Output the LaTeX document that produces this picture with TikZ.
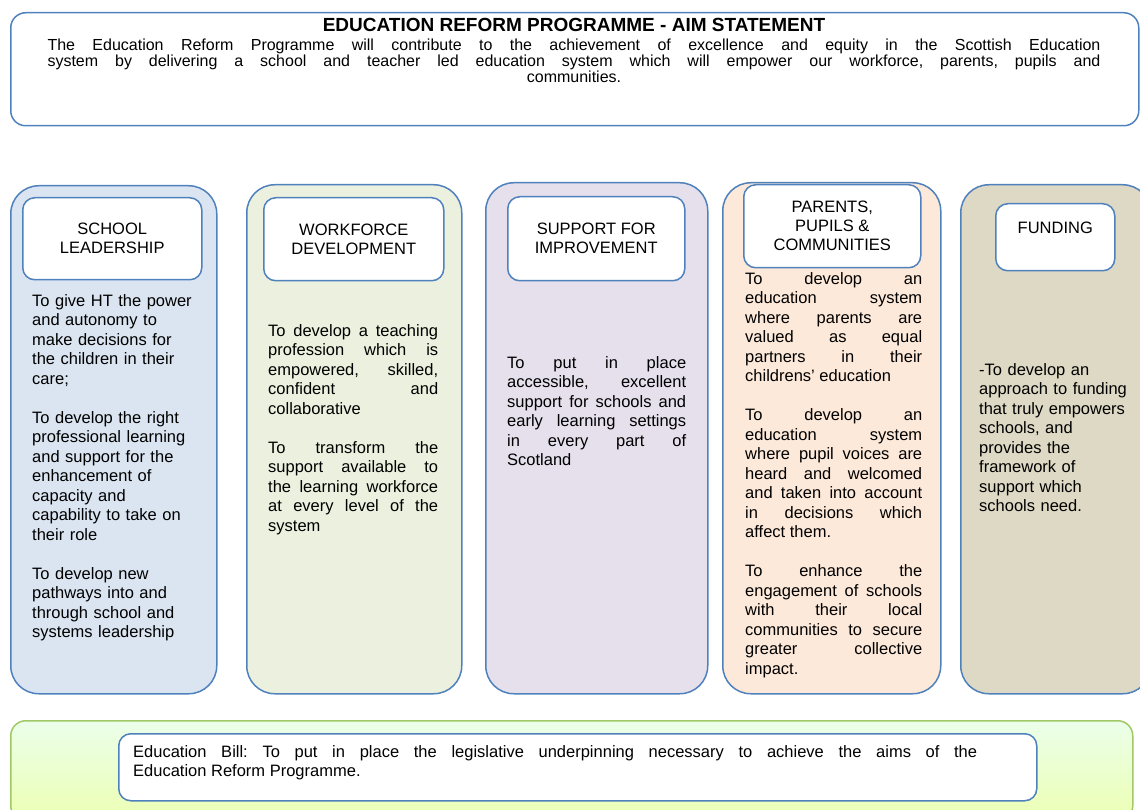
\documentclass[tikz,border=0pt]{standalone}
\usepackage{fontspec}
\setmainfont{Liberation Sans}
\usepackage{tikz}
\setlength{\parindent}{0pt}
\frenchspacing
\definecolor{bordblue}{RGB}{79,129,189}
\definecolor{leadfill}{RGB}{219,229,241}
\definecolor{workfill}{RGB}{235,241,222}
\definecolor{suppfill}{RGB}{229,224,236}
\definecolor{ppcfill}{RGB}{253,233,217}
\definecolor{fundfill}{RGB}{221,217,196}
\definecolor{billgreen}{RGB}{160,200,100}

\begin{document}
\begin{tikzpicture}[x=1pt, y=-1pt,
  outer/.style={draw=bordblue, line width=1.5pt, rounded corners=28pt, inner sep=0pt, anchor=north west},
  head/.style={draw=bordblue, line width=1.5pt, fill=white, rounded corners=12pt, inner sep=0pt,
    anchor=north west, align=center, font=\fontsize{16.5}{19}\selectfont},
  txt/.style={inner sep=0pt, anchor=north west, font=\fontsize{16.5}{19.5}\selectfont}]
\useasboundingbox (0,0) rectangle (1140,810);

% aim statement
\node[draw=bordblue, line width=1.5pt, rounded corners=15pt, inner sep=0pt, anchor=north west,
  minimum width=1128, minimum height=113] (aimbox) at (10,12) {};
\node[inner sep=0pt, font=\bfseries\fontsize{19}{20}\selectfont] (aimtitle) at (574,25)
  {EDUCATION REFORM PROGRAMME - AIM STATEMENT};
\node[inner sep=0pt, anchor=north, text width=1053, align=justify, font=\fontsize{16}{16}\selectfont] (aimtext) at (574,39)
  {\parfillskip=0pt The Education Reform Programme will contribute to the achievement of excellence and equity in the Scottish Education\linebreak
   system by delivering a school and teacher led education system which will empower our workforce, parents, pupils and\par
   \hspace*{\fill}communities.\hspace*{\fill}\mbox{}};

% the five columns
\foreach \x/\y/\w/\h/\c/\n in {10/185/206/508/leadfill/leadcol, 246/184/215/509/workfill/workcol,
    485/182/222/511/suppfill/suppcol, 722/182/218/511/ppcfill/ppccol, 960/184/190/509/fundfill/fundcol}{
  \node[outer, fill=\c, minimum width=\w, minimum height=\h] (\n) at (\x,\y) {};
}

\node[head, minimum width=179, minimum height=82] (leadhead) at (22,197) {SCHOOL\\LEADERSHIP};
\node[head, minimum width=180, minimum height=83] (workhead) at (263,197) {WORKFORCE\\DEVELOPMENT};
\node[head, minimum width=177, minimum height=84] (supphead) at (507,196) {SUPPORT FOR\\IMPROVEMENT};
\node[head, minimum width=177, minimum height=83] (ppchead) at (743,184) {PARENTS,\\PUPILS \&\\COMMUNITIES};
\node[head, minimum width=119, minimum height=67] (fundhead) at (995,203) {FUNDING\\\mbox{}};

\node[txt, text width=175, align=left] (leadtext) at (32,294)
  {To give HT the power\\ and autonomy to\\ make decisions for\\ the children in their\\ care;\par\vspace{19.5pt}
   To develop the right\\ professional learning\\ and support for the\\ enhancement of\\ capacity and\\ capability to take on\\ their role\par\vspace{19.5pt}
   To develop new\\ pathways into and\\ through school and\\ systems leadership};

\node[txt, text width=170, align=justify] (worktext) at (268,324)
  {To develop a teaching\linebreak profession which is\linebreak empowered, skilled,\linebreak confident and\linebreak collaborative\par\vspace{19.5pt}
   To transform the\linebreak support available to\linebreak the learning workforce\linebreak at every level of the\linebreak system};

\node[txt, text width=179, align=justify] (supptext) at (507,356)
  {To put in place\linebreak accessible, excellent\linebreak support for schools and\linebreak early learning settings\linebreak in every part of\linebreak Scotland};

\node[txt, text width=177, align=justify] (ppctext) at (745,272)
  {To develop an\linebreak education system\linebreak where parents are\linebreak valued as equal\linebreak partners in their\linebreak childrens' education\par\vspace{19.5pt}
   To develop an\linebreak education system\linebreak where pupil voices are\linebreak heard and welcomed\linebreak and taken into account\linebreak in decisions which\linebreak affect them.\par\vspace{19.5pt}
   To enhance the\linebreak engagement of schools\linebreak with their local\linebreak communities to secure\linebreak greater collective\linebreak impact.};

\node[txt, text width=160, align=left] (fundtext) at (979,363)
  {-To develop an\\ approach to funding\\ that truly empowers\\ schools, and\\ provides the\\ framework of\\ support which\\ schools need.};

% education bill
\node[draw=billgreen, line width=1.5pt, rounded corners=15pt, inner sep=0pt, anchor=north west,
  top color=green!8!white, bottom color=lime!30!white, minimum width=1122, minimum height=100] (billbox) at (10,720) {};
\node[draw=bordblue, line width=1.5pt, fill=white, rounded corners=12pt, inner sep=0pt, anchor=north west,
  minimum width=918, minimum height=67] (billhead) at (118,733) {};
\node[txt, text width=844, align=justify] (billtext) at (133,745)
  {Education Bill: To put in place the legislative underpinning necessary to achieve the aims of the\linebreak
   Education Reform Programme.};
\end{tikzpicture}
\end{document}
